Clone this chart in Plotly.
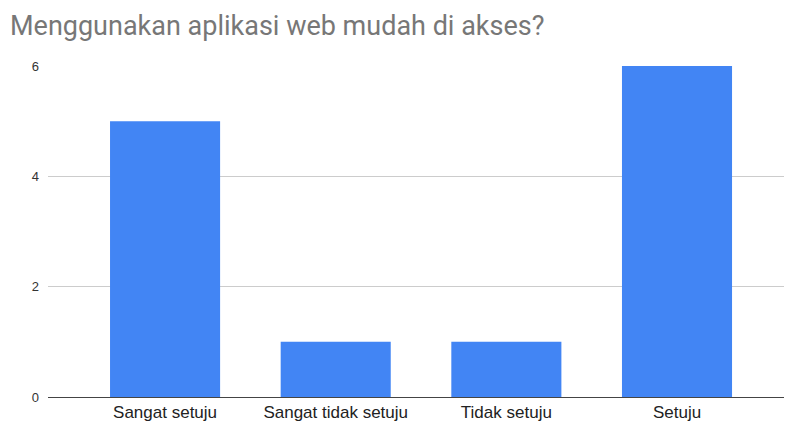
import plotly.graph_objects as go

categories = ["Sangat setuju", "Sangat tidak setuju", "Tidak setuju", "Setuju"]
values = [5, 1, 1, 6]
y_ticks = [0, 2, 4, 6]

fig = go.Figure(go.Bar(
    x=categories, y=values,
    marker=dict(color="#4285F4", line=dict(width=0)),
    width=0.645,
))

fig.update_layout(
    width=786, height=423,
    margin=dict(l=48, r=2, t=66, b=26),
    paper_bgcolor="white", plot_bgcolor="white",
    title=dict(
        text="Menggunakan aplikasi web mudah di akses?",
        x=10/786, xanchor="left", xref="container",
        y=1 - 26/423, yanchor="middle", yref="container",
        font=dict(family="Roboto, Arial, sans-serif", size=27, color="#777777"),
    ),
    showlegend=False,
)
fig.update_xaxes(
    range=[-0.686, 3.627],
    showgrid=False,
    showline=True, linecolor="#444444", linewidth=1,
    ticks="",
    tickfont=dict(family="Liberation Sans, Arial, sans-serif", size=17, color="#222222"),
)
fig.update_yaxes(
    range=[0, 6],
    tickvals=y_ticks,
    showgrid=True, gridcolor="#cccccc", gridwidth=1,
    zeroline=False,
    ticks="",
    ticklabelstandoff=8,
    tickfont=dict(family="Liberation Sans, Arial, sans-serif", size=13, color="#333333"),
)

fig.write_html(
    "out.html",
    config={"displayModeBar": False},
    post_script="document.body.style.margin='0';document.body.style.overflow='hidden';",
)
